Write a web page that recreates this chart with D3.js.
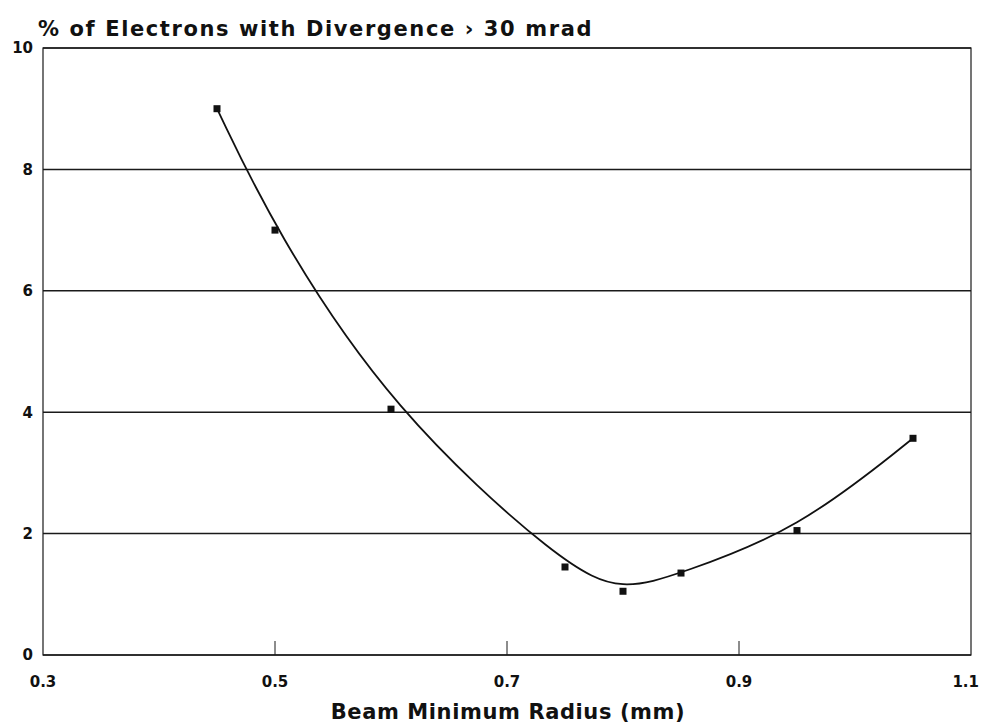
<!DOCTYPE html>
<html>
<head>
<meta charset="utf-8">
<script src="https://cdn.jsdelivr.net/npm/d3@7"></script>
<style>
  body { margin: 0; background: #fff; }
  svg text { font-family: "DejaVu Sans", "Liberation Sans", Arial, sans-serif; font-weight: bold; fill: #111; }
</style>
</head>
<body>
<div id="chart"></div>
<script>
// beam minimum radius (mm)
const radius = [0.45, 0.5, 0.6, 0.75, 0.8, 0.85, 0.95, 1.05];
// % of electrons with divergence > 30 mrad
const percent = [9.0, 7.0, 4.05, 1.45, 1.05, 1.35, 2.05, 3.57];
const xTicks = [0.3, 0.5, 0.7, 0.9, 1.1];
const yTicks = [0, 2, 4, 6, 8, 10];

const width = 982, height = 726;
const margin = {top: 48, right: 11, bottom: 71, left: 43};

const svg = d3.select("#chart").append("svg")
  .attr("width", width)
  .attr("height", height);

const x = d3.scaleLinear().domain([0.3, 1.1]).range([margin.left, width - margin.right]);
const y = d3.scaleLinear().domain([0, 10]).range([height - margin.bottom, margin.top]);

// horizontal grid lines
svg.append("g")
  .selectAll("line")
  .data(yTicks)
  .enter().append("line")
  .attr("x1", x(0.3))
  .attr("x2", x(1.1))
  .attr("y1", d => y(d))
  .attr("y2", d => y(d))
  .attr("stroke", "#1a1a1a")
  .attr("stroke-width", 1.5);

// frame
svg.append("rect")
  .attr("x", x(0.3))
  .attr("y", y(10))
  .attr("width", x(1.1) - x(0.3))
  .attr("height", y(0) - y(10))
  .attr("fill", "none")
  .attr("stroke", "#1a1a1a")
  .attr("stroke-width", 1.2);

// small x ticks pointing inwards
svg.append("g")
  .selectAll("line")
  .data(xTicks.slice(1, -1))
  .enter().append("line")
  .attr("x1", d => x(d))
  .attr("x2", d => x(d))
  .attr("y1", y(0))
  .attr("y2", y(0) - 14)
  .attr("stroke", "#1a1a1a")
  .attr("stroke-width", 1);

// tick labels
svg.append("g")
  .selectAll("text")
  .data(yTicks)
  .enter().append("text")
  .attr("x", 33)
  .attr("y", d => y(d))
  .attr("dy", "0.36em")
  .attr("text-anchor", "end")
  .style("font-size", "15px")
  .text(d => d);

// last label would run off the page, so it is right-aligned at the edge
svg.append("g")
  .selectAll("text")
  .data(xTicks)
  .enter().append("text")
  .attr("x", (d, i) => i === xTicks.length - 1 ? width - 3 : x(d))
  .attr("y", y(0) + 32)
  .attr("text-anchor", (d, i) => i === xTicks.length - 1 ? "end" : "middle")
  .style("font-size", "15px")
  .text(d => d3.format(".1f")(d));

// titles
svg.append("text")
  .attr("x", 38)
  .attr("y", 36)
  .style("font-size", "21px")
  .style("letter-spacing", "1.6px")
  .text("% of Electrons with Divergence \u203A 30 mrad");

svg.append("text")
  .attr("x", 508)
  .attr("y", 719)
  .attr("text-anchor", "middle")
  .style("font-size", "21px")
  .style("letter-spacing", "0.6px")
  .text("Beam Minimum Radius (mm)");

// smoothed curve
const pts = radius.map((r, i) => [r, percent[i]]);
const line = d3.line()
  .x(d => x(d[0]))
  .y(d => y(d[1]))
  .curve(d3.curveBasis);

svg.append("path")
  .datum(pts)
  .attr("d", line)
  .attr("fill", "none")
  .attr("stroke", "#111")
  .attr("stroke-width", 1.8);

// markers
svg.append("g")
  .selectAll("rect")
  .data(pts)
  .enter().append("rect")
  .attr("x", d => x(d[0]) - 3.5)
  .attr("y", d => y(d[1]) - 3.5)
  .attr("width", 7)
  .attr("height", 7)
  .attr("fill", "#111");
</script>
</body>
</html>
